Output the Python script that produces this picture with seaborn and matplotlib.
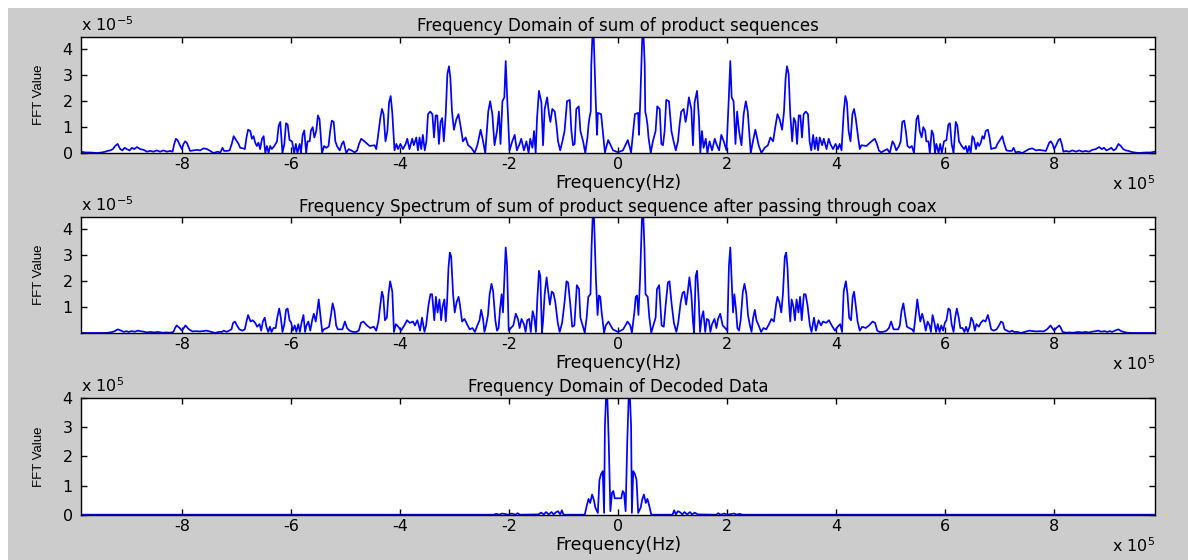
import numpy as np
import pandas as pd
import seaborn as sns
import matplotlib.pyplot as plt
from matplotlib.patches import Rectangle

# --- 1. Dados ---
# metade positiva de cada espectro, o espectro e simetrico em torno de 0
# frequencia em kHz, amplitude nas unidades do eixo

# painel 1: amplitude x 1e-5
f1_khz = [0, 9, 18, 24, 31, 37, 38.5, 41, 44.5, 47, 49, 50, 52, 54, 56, 60, 64, 69, 72, 76.5,
          79.5, 82.5, 85.5, 88.5, 93.5, 98, 102, 106, 110, 113, 116, 120.5, 124, 126.5, 130,
          134.5, 137.5, 140.5, 145, 148.5, 151, 154, 157, 161, 164, 168, 172.5, 177.5, 180.5,
          185.5, 189.5, 194, 199, 203, 206, 208.5, 212, 215.5, 218.5, 222, 226.5, 230.5, 234.5,
          238, 241.5, 243.5, 247.5, 252, 255, 258, 263, 269, 275, 279.5, 284.5, 288.5, 292.5,
          296.5, 301, 304.5, 307.5, 310, 313, 316, 319.5, 322.5, 325.5, 328.5, 331.5, 334.5,
          337.5, 340.5, 344.5, 348.5, 351.5, 354.5, 358, 361, 364, 367, 370, 374.5, 377.5,
          382.5, 386.5, 389.5, 394.5, 399, 403.5, 406.5, 410, 414, 417, 420, 423, 426.5, 430,
          433, 436, 440.5, 443.5, 446.5, 455.5, 465, 471, 475, 478.5, 483, 489, 494, 498.5,
          503.5, 506.5, 510.5, 515.5, 518.5, 521.5, 525, 528, 531, 535, 539, 543, 547.5, 550.5,
          553.5, 557, 560, 563.5, 565.5, 569.5, 572, 575.5, 578.5, 581.5, 584, 588, 591, 594,
          598, 602.5, 606, 609, 612, 615.5, 619.5, 622.5, 625.5, 630.5, 635, 638, 641, 644, 647,
          650, 653, 656.5, 659.5, 662.5, 665.5, 668.5, 671.5, 674.5, 678.5, 681.5, 684.5, 688,
          693, 696, 700.5, 705, 708.5, 712.5, 717.5, 722.5, 725.5, 729.5, 734.5, 742, 748, 754,
          760, 766.5, 772.5, 778.5, 785, 791, 794, 797, 800, 803, 808, 811, 814, 817, 821.5,
          827.5, 833.5, 840, 846, 852, 858, 864, 870, 876.5, 882.5, 887.5, 891.5, 896, 901, 905,
          909, 913, 918, 922.5, 926.5, 931.5, 936.5, 940.5, 947, 956, 968, 977, 985]
a1 = [0.03, 0.1, 0.5, 0.02, 1.5, 1.55, 0.7, 2.1, 4.48, 4.48, 3.4, 1.6, 1.4, 1.1, 0.6, 0.0, 0.45,
      0.85, 1.8, 1.7, 0.35, 0.3, 0.85, 2.05, 2.0, 0.85, 0.45, 0.1, 0.45, 1.1, 1.6, 1.7, 1.2,
      1.5, 2.15, 1.7, 0.3, 1.95, 2.4, 1.35, 0.0, 0.85, 0.2, 0.55, 0.0, 0.45, 0.1, 0.55, 0.35,
      0.1, 0.7, 0.45, 0.1, 2.0, 3.55, 2.15, 2.0, 0.35, 1.6, 0.85, 0.3, 1.5, 2.0, 1.6, 0.6, 0.0,
      0.45, 0.9, 0.6, 0.3, 0.0, 0.2, 0.3, 0.6, 0.45, 1.0, 1.5, 1.3, 0.9, 1.6, 2.9, 3.35, 3.05,
      1.5, 0.45, 1.35, 1.2, 0.35, 1.45, 1.45, 0.6, 1.5, 1.6, 1.5, 0.45, 0.1, 0.7, 0.15, 0.6,
      0.1, 0.6, 0.3, 0.55, 0.15, 0.55, 0.35, 0.15, 0.35, 0.15, 0.35, 0.1, 1.55, 2.2, 1.95,
      0.85, 0.45, 1.5, 1.7, 1.35, 0.6, 0.15, 0.3, 0.27, 0.45, 0.55, 0.35, 0.1, 0.02, 0.1,
      0.15, 0.0, 0.45, 0.35, 0.1, 0.27, 0.45, 1.2, 1.25, 0.85, 0.27, 0.2, 0.27, 0.0, 1.3,
      1.45, 0.85, 0.6, 1.0, 0.85, 0.45, 0.45, 0.0, 0.87, 0.7, 0.0, 0.35, 0.0, 0.35, 0.0, 0.45,
      0.5, 1.1, 1.15, 0.35, 0.0, 1.2, 1.05, 0.45, 0.27, 0.15, 0.27, 0.0, 0.27, 0.0, 0.65,
      0.55, 0.15, 0.4, 0.27, 0.4, 0.65, 0.55, 0.85, 0.9, 0.6, 0.15, 0.18, 0.2, 0.35, 0.5,
      0.65, 0.35, 0.1, 0.08, 0.08, 0.2, 0.02, 0.05, 0.0, 0.08, 0.15, 0.18, 0.1, 0.12, 0.1,
      0.08, 0.4, 0.45, 0.35, 0.15, 0.27, 0.5, 0.55, 0.35, 0.05, 0.08, 0.05, 0.1, 0.05, 0.1,
      0.05, 0.08, 0.05, 0.12, 0.15, 0.23, 0.15, 0.2, 0.1, 0.15, 0.2, 0.1, 0.15, 0.35, 0.27,
      0.15, 0.1, 0.08, 0.05, 0.02, 0.0, 0.02, 0.02, 0.05]

# painel 2: amplitude x 1e-5 (depois do cabo coaxial)
f2_khz = [0, 9.5, 17.5, 22.5, 25.5, 30, 32.5, 35, 37.5, 40.5, 44, 46.5, 48.5, 50.5, 54.5, 57.5,
          61, 65.5, 69, 71.5, 75.5, 80, 84, 87.5, 91.5, 94.5, 98, 102.5, 107, 110.5, 115, 118.5,
          121.5, 125, 128, 131, 134.5, 137.5, 139.5, 142.5, 145, 148, 150.5, 153.5, 156.5, 160,
          163, 166.5, 169.5, 172.5, 177, 180.5, 183.5, 187.5, 192, 196.5, 200.5, 203.5, 206,
          208.5, 211, 213.5, 216.5, 219, 222, 225, 229, 232, 235.5, 238.5, 242, 245, 247.5, 251,
          254, 258, 262.5, 267, 272, 277, 281.5, 286, 290, 292.5, 296, 299.5, 302.5, 306, 308.5,
          311, 313.5, 316, 318.5, 322, 324.5, 327.5, 331, 334, 337, 341, 344, 347.5, 352, 355,
          359.5, 363, 368, 372.5, 376, 382, 387, 392, 398, 403, 407.5, 411, 414, 418, 421, 424,
          427.5, 430.5, 433, 436.5, 439.5, 443.5, 448, 454.5, 460.5, 467, 471.5, 475.5, 480, 486,
          492.5, 497, 501, 505.5, 510, 514, 517, 520, 523.5, 526.5, 530, 534, 539.5, 542.5,
          545.5, 549, 552, 554.5, 558, 561, 564.5, 568, 571.5, 574, 577, 580.5, 583.5, 586.5,
          590, 593, 596.5, 599.5, 602.5, 606, 609, 612, 615.5, 618.5, 621.5, 625, 628, 632,
          635.5, 638.5, 641.5, 645, 648, 651.5, 654.5, 657.5, 662, 665.5, 670, 674, 678.5,
          681.5, 684.5, 689, 694.5, 699, 702.5, 706, 709, 713.5, 718, 723, 726.5, 732.5, 739,
          745.5, 755, 761.5, 768, 774, 780.5, 787, 793.5, 796.5, 800, 804, 809.5, 812.5, 815.5,
          822, 828.5, 835, 844.5, 851, 857.5, 864, 870, 876.5, 881, 886, 892.5, 897.5, 902,
          906.5, 911.5, 918, 923, 927.5, 934, 944, 963, 985]
a2 = [0.05, 0.15, 0.45, 0.3, 0.02, 0.8, 1.4, 1.45, 0.7, 2.1, 4.46, 4.46, 3.3, 1.5, 1.4, 0.6,
      0.02, 0.35, 0.6, 1.7, 1.85, 0.3, 0.25, 1.1, 1.95, 2.0, 1.2, 0.4, 0.05, 0.4, 1.2, 1.55,
      1.6, 1.1, 1.6, 2.15, 1.5, 0.45, 0.02, 2.2, 2.4, 1.3, 0.05, 0.6, 0.85, 0.05, 0.55, 0.5,
      0.05, 0.35, 0.55, 0.2, 0.55, 0.75, 0.3, 0.2, 0.1, 2.6, 3.3, 2.05, 0.8, 1.5, 0.9, 0.2,
      0.1, 0.5, 1.6, 1.9, 1.5, 0.7, 0.3, 0.05, 0.55, 0.9, 0.5, 0.3, 0.05, 0.2, 0.15, 0.35,
      0.55, 0.45, 1.1, 1.4, 1.2, 0.8, 1.5, 2.95, 3.1, 2.5, 1.2, 0.45, 1.3, 1.0, 0.5, 1.3, 0.8,
      1.4, 0.5, 1.5, 1.5, 1.1, 0.3, 0.05, 0.6, 0.1, 0.5, 0.3, 0.45, 0.4, 0.5, 0.3, 0.1, 0.25,
      0.35, 0.05, 1.6, 2.0, 1.5, 0.6, 0.5, 1.4, 1.6, 1.0, 0.45, 0.1, 0.25, 0.2, 0.3, 0.45,
      0.4, 0.1, 0.05, 0.05, 0.1, 0.2, 0.45, 0.15, 0.15, 0.15, 0.3, 0.85, 1.15, 0.7, 0.25, 0.2,
      0.15, 0.05, 0.6, 1.3, 0.8, 0.45, 0.75, 0.5, 0.1, 0.45, 0.3, 0.05, 0.7, 0.4, 0.05, 0.35,
      0.05, 0.3, 0.1, 0.4, 0.5, 0.95, 0.9, 0.35, 0.05, 0.6, 0.95, 0.6, 0.2, 0.2, 0.05, 0.25,
      0.05, 0.25, 0.6, 0.45, 0.1, 0.35, 0.25, 0.4, 0.5, 0.45, 0.7, 0.45, 0.15, 0.1, 0.15, 0.3,
      0.45, 0.4, 0.15, 0.1, 0.05, 0.1, 0.05, 0.05, 0.01, 0.05, 0.1, 0.08, 0.07, 0.08, 0.07,
      0.15, 0.3, 0.2, 0.1, 0.2, 0.3, 0.2, 0.05, 0.02, 0.03, 0.02, 0.05, 0.03, 0.05, 0.03,
      0.06, 0.08, 0.1, 0.06, 0.08, 0.05, 0.08, 0.05, 0.1, 0.15, 0.08, 0.05, 0.02, 0.01, 0.01,
      0.01]

# painel 3: amplitude x 1e5 (dados decodificados)
f3_khz = [0, 6, 8.5, 11, 14, 17, 19.5, 22, 24, 25.5, 28, 31, 34, 37, 41.5, 44.5, 47.5, 51, 54,
          57.5, 61, 100, 103, 106, 110, 114, 118, 122, 127, 132, 136, 141, 146, 180, 184, 188,
          195, 200, 213, 218, 223, 228, 985]
a3 = [0.57, 0.57, 0.82, 0.76, 0.13, 2.5, 4.0, 4.0, 3.05, 0.07, 1.5, 1.4, 1.2, 0.07, 0.25, 0.53,
      0.7, 0.41, 0.55, 0.3, 0.01, 0.01, 0.16, 0.02, 0.13, 0.09, 0.02, 0.1, 0.02, 0.1, 0.02,
      0.08, 0.02, 0.01, 0.06, 0.01, 0.05, 0.01, 0.05, 0.01, 0.04, 0.01, 0.01]

titles = ['Frequency Domain of sum of product sequences',
          'Frequency Spectrum of sum of product sequence after passing through coax',
          'Frequency Domain of Decoded Data']
y_exp = ['-5', '-5', '5']
y_ticks = [[0, 1, 2, 3, 4], [1, 2, 3, 4], [0, 1, 2, 3, 4]]
y_lims = [(0, 4.48), (0.01, 4.46), (0, 4.0)]
x_ticks = [-8, -6, -4, -2, 0, 2, 4, 6, 8]   # x 1e5 Hz


# --- 2. Espelhar a metade positiva ---
def espectro(f_khz, amp):
    f = np.array(f_khz) * 1e3
    a = np.array(amp)
    f_all = np.concatenate([-f[:0:-1], f])
    a_all = np.concatenate([a[:0:-1], a])
    return pd.DataFrame({'freq': f_all, 'amp': a_all})


dados = [espectro(f1_khz, a1), espectro(f2_khz, a2), espectro(f3_khz, a3)]

# --- 3. Figura no estilo MATLAB ---
plt.rcParams['font.family'] = ['DejaVu Sans']
plt.rcParams['axes.unicode_minus'] = False

fig = plt.figure(figsize=(11.88, 5.6), dpi=100, facecolor='white')
fig.patches.append(Rectangle((8 / 1188, 0), 1 - 8 / 1188, 1 - 8 / 560, transform=fig.transFigure,
                             facecolor='#cccccc', edgecolor='none', zorder=-10))

posicoes = [[0.0682, 0.7268, 0.904, 0.2071],
            [0.0682, 0.4054, 0.904, 0.2066],
            [0.0682, 0.0804, 0.904, 0.2089]]

for i, df in enumerate(dados):
    ax = fig.add_axes(posicoes[i])
    ax.set_facecolor('white')
    sns.lineplot(data=df, x='freq', y='amp', ax=ax, color='#0000ff', linewidth=1.25, estimator=None)

    ax.set_xlim(-9.85e5, 9.85e5)
    ax.set_ylim(*y_lims[i])
    ax.set_xticks([v * 1e5 for v in x_ticks])
    ax.set_xticklabels([str(v) for v in x_ticks])
    ax.set_yticks(y_ticks[i])
    ax.set_yticklabels([str(v) for v in y_ticks[i]])
    ax.tick_params(direction='in', top=True, right=True, length=4.5, width=1,
                   labelsize=11.5, colors='black')
    ax.tick_params(axis='x', pad=3)
    ax.tick_params(axis='y', pad=6)
    for s in ax.spines.values():
        s.set_color('black')
        s.set_linewidth(1)

    ax.set_title(titles[i], fontsize=12, pad=4)
    ax.set_xlabel('Frequency(Hz)', fontsize=12.5, labelpad=1)
    ax.set_ylabel('FFT Value', fontsize=9.5, family='Liberation Sans')
    ax.yaxis.set_label_coords(-0.0335, 0.5)

    # multiplicadores dos eixos
    h = posicoes[i][3] * 560
    ax.text(0, 1 + 6 / h, 'x 10$^{' + y_exp[i] + '}$', transform=ax.transAxes,
            ha='left', va='baseline', fontsize=11.5)
    ax.text(1, -37 / h, 'x 10$^{5}$', transform=ax.transAxes,
            ha='right', va='baseline', fontsize=11.5)

plt.savefig('out.png', dpi=100, facecolor=fig.get_facecolor())
